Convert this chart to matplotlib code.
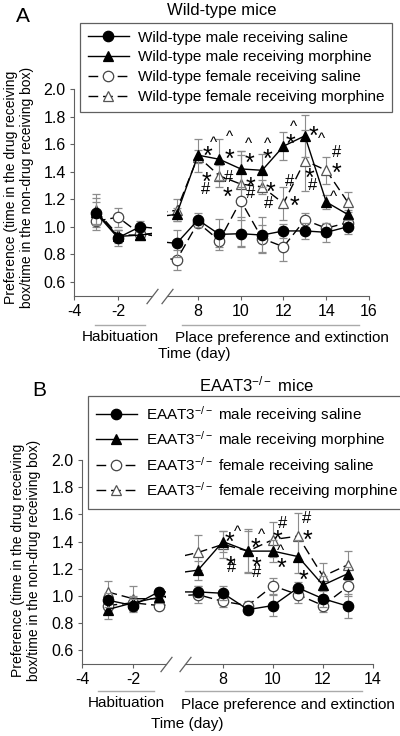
import numpy as np
import matplotlib.pyplot as plt
from matplotlib.lines import Line2D

plt.rcParams['font.family'] = ['Liberation Sans', 'DejaVu Sans']
plt.rcParams['mathtext.fontset'] = 'custom'
plt.rcParams['mathtext.rm'] = 'Liberation Sans'
plt.rcParams['mathtext.it'] = 'Liberation Sans:italic'
plt.rcParams['mathtext.bf'] = 'Liberation Sans:bold'
plt.rcParams['axes.unicode_minus'] = False

# ---- panel A: wild-type mice ----
days_a = [-3, -2, -1, 7, 8, 9, 10, 11, 12, 13, 14, 15]
wt_male_saline = [1.10, 0.92, 1.00, 0.88, 1.05, 0.945, 0.95, 0.94, 0.97, 0.97, 0.96, 1.00]
wt_male_saline_err = [0.08, 0.06, 0.04, 0.10, 0.05, 0.11, 0.10, 0.13, 0.05, 0.06, 0.07, 0.05]
wt_male_morphine = [1.11, 0.93, 0.94, 1.09, 1.52, 1.49, 1.42, 1.41, 1.585, 1.66, 1.18, 1.09]
wt_male_morphine_err = [0.10, 0.05, 0.03, 0.05, 0.12, 0.15, 0.13, 0.12, 0.10, 0.15, 0.05, 0.03]
wt_female_saline = [1.04, 1.07, 0.95, 0.76, 1.03, 0.90, 1.19, 0.915, 0.855, 1.05, 0.99, 1.03]
wt_female_saline_err = [0.06, 0.07, 0.03, 0.07, 0.03, 0.05, 0.33, 0.10, 0.10, 0.05, 0.03, 0.03]
wt_female_morphine = [1.12, 0.94, 0.94, 1.12, 1.51, 1.37, 1.31, 1.29, 1.17, 1.48, 1.41, 1.18]
wt_female_morphine_err = [0.12, 0.04, 0.03, 0.08, 0.05, 0.08, 0.24, 0.05, 0.12, 0.22, 0.10, 0.07]

labels_a = ['Wild-type male receiving saline', 'Wild-type male receiving morphine',
            'Wild-type female receiving saline', 'Wild-type female receiving morphine']

stars_a = [(8.44, 1.56), (8.40, 1.375), (9.48, 1.54), (9.38, 1.265), (10.39, 1.51),
           (10.47, 1.34), (11.23, 1.54), (11.38, 1.30), (12.34, 1.65), (12.50, 1.20),
           (13.38, 1.71), (13.23, 1.40), (14.46, 1.44)]
carets_a = [(8.72, 1.63), (9.45, 1.67), (10.34, 1.62), (11.23, 1.62), (12.46, 1.745),
            (13.77, 1.66), (14.34, 1.24)]
hashes_a = [(8.36, 1.27), (9.45, 1.36), (10.44, 1.24), (11.30, 1.17), (12.28, 1.33),
            (13.35, 1.30), (14.46, 1.54)]

# ---- panel B: EAAT3-/- mice ----
days_b = [-3, -2, -1, 7, 8, 9, 10, 11, 12, 13]
ko_male_saline = [0.97, 0.93, 1.03, 1.03, 1.02, 0.90, 0.93, 1.06, 0.98, 0.925]
ko_male_saline_err = [0.05, 0.05, 0.03, 0.04, 0.05, 0.03, 0.08, 0.04, 0.06, 0.09]
ko_male_morphine = [0.90, 0.95, 0.99, 1.19, 1.40, 1.33, 1.33, 1.29, 1.08, 1.165]
ko_male_morphine_err = [0.07, 0.05, 0.04, 0.07, 0.08, 0.15, 0.08, 0.12, 0.07, 0.05]
ko_female_saline = [0.93, 0.95, 0.93, 1.01, 0.96, 0.93, 1.075, 1.01, 0.93, 1.07]
ko_female_saline_err = [0.04, 0.04, 0.02, 0.06, 0.04, 0.03, 0.06, 0.06, 0.05, 0.07]
ko_female_morphine = [1.03, 0.98, 0.98, 1.32, 1.38, 1.33, 1.415, 1.44, 1.145, 1.23]
ko_female_morphine_err = [0.08, 0.09, 0.03, 0.13, 0.10, 0.16, 0.13, 0.17, 0.10, 0.10]

ko = r'EAAT3$^{-/-}$'
labels_b = [ko + ' male receiving saline', ko + ' male receiving morphine',
            ko + ' female receiving saline', ko + ' female receiving morphine']

stars_b = [(8.27, 1.445), (8.29, 1.27), (9.29, 1.40), (9.33, 1.26), (10.19, 1.465),
           (10.32, 1.255), (11.36, 1.465), (11.23, 1.165)]
carets_b = [(8.59, 1.49), (9.52, 1.47), (10.28, 1.35)]
hashes_b = [(8.36, 1.21), (9.33, 1.175), (10.40, 1.53), (11.33, 1.57)]

yticks = [0.6, 0.8, 1.0, 1.2, 1.4, 1.6, 1.8, 2.0]
ylabel = 'Preference (time in the drug receiving\nbox/time in the non-drug receiving box)'

dash = (0, (7, 3.5))
styles = [
    dict(marker='o', ls='-', mfc='black', mec='black', ms=7.5),
    dict(marker='^', ls='-', mfc='black', mec='black', ms=6.5),
    dict(marker='o', ls=dash, mfc='white', mec='#444444', ms=7.5),
    dict(marker='^', ls=dash, mfc='white', mec='#555555', ms=6.5),
]
axis_grey = '#606060'
W, H = 400, 736


def fx(px):
    return px / W


def fy(py):
    return 1 - py / H


def draw_panel(fig, left_px, right_px, top_px, bottom_px, left_xlim, right_xlim,
               right_ticks, days, means, errs, stars, carets, hashes):
    h = (bottom_px - top_px) / H
    ax_l = fig.add_axes([fx(left_px[0]), fy(bottom_px), (left_px[1] - left_px[0]) / W, h])
    ax_r = fig.add_axes([fx(right_px[0]), fy(bottom_px), (right_px[1] - right_px[0]) / W, h])

    order = [3, 2, 1, 0]
    for ax in (ax_l, ax_r):
        for i in order:
            st = styles[i]
            ax.errorbar(days, means[i], yerr=errs[i], color='black', lw=1.0,
                        ecolor='#8c8c8c', elinewidth=0.8, capsize=2.8, capthick=0.8,
                        marker=st['marker'], ls=st['ls'], mfc=st['mfc'], mec=st['mec'],
                        ms=st['ms'], mew=0.9, zorder=3 + (3 - i))
        ax.set_ylim(0.5, 2.0)
        ax.spines['top'].set_visible(False)
        ax.spines['right'].set_visible(False)
        ax.spines['bottom'].set_color(axis_grey)
        ax.spines['left'].set_color(axis_grey)
        ax.tick_params(direction='out', length=3, width=0.8, color=axis_grey,
                       labelsize=11.5, pad=3)
        ax.patch.set_alpha(0)

    ax_l.set_xlim(*left_xlim)
    ax_l.set_xticks([-4, -2])
    ax_l.set_yticks(yticks)
    ax_l.set_yticklabels(['%.1f' % v for v in yticks])

    ax_r.set_xlim(*right_xlim)
    ax_r.set_xticks(right_ticks)
    ax_r.spines['left'].set_visible(False)
    ax_r.set_yticks([])

    # break marks
    slash = dict(marker=[(-1, -1.3), (1, 1.3)], markersize=11, ls='none',
                 color=axis_grey, mec=axis_grey, mew=0.9, clip_on=False)
    ax_l.plot([1], [0], transform=ax_l.transAxes, **slash)
    ax_r.plot([0], [0], transform=ax_r.transAxes, **slash)

    # significance marks
    for x, y in stars:
        ax_r.annotate('*', (x, y), xytext=(0, -5.5), textcoords='offset points',
                      ha='center', va='center', fontsize=18, zorder=10)
    for x, y in carets:
        ax_r.annotate('^', (x, y), xytext=(0, -2), textcoords='offset points',
                      ha='center', va='center', fontsize=11, zorder=10)
    for x, y in hashes:
        ax_r.annotate('#', (x, y), xytext=(0, 0), textcoords='offset points',
                      ha='center', va='center', fontsize=12, zorder=10)
    return ax_l, ax_r


def phase_labels(fig, line_y, hab_span, pp_span, hab_text_y, pp_xy, time_xy):
    for x0, x1 in (hab_span, pp_span):
        fig.add_artist(Line2D([fx(x0), fx(x1)], [fy(line_y), fy(line_y)],
                              transform=fig.transFigure, color='#aaaaaa', lw=1.0))
    fig.text(fx(sum(hab_span) / 2), fy(hab_text_y), 'Habituation', ha='center', va='center',
             fontsize=11)
    fig.text(fx(pp_xy[0]), fy(pp_xy[1]), 'Place preference and extinction',
             ha='center', va='center', fontsize=11)
    fig.text(fx(time_xy[0]), fy(time_xy[1]), 'Time (day)', ha='center', va='center',
             fontsize=11)


def legend_handles():
    return [Line2D([0], [0], color='black', lw=1.0, ls=st['ls'], marker=st['marker'],
                   mfc=st['mfc'], mec=st['mec'], ms=st['ms'], mew=0.9) for st in styles]


fig = plt.figure(figsize=(4, 7.36), dpi=100)

# panel A
draw_panel(fig, (74, 152), (167, 369), 89, 295.7, (-4, -0.45), (6.55, 16),
           [8, 10, 12, 14, 16], days_a,
           [wt_male_saline, wt_male_morphine, wt_female_saline, wt_female_morphine],
           [wt_male_saline_err, wt_male_morphine_err, wt_female_saline_err,
            wt_female_morphine_err],
           stars_a, carets_a, hashes_a)
phase_labels(fig, 325, (95, 145), (182, 359), 337, (282, 338), (194, 354))
fig.text(fx(222), fy(10), 'Wild-type mice', ha='center', va='center', fontsize=12)
fig.text(fx(23), fy(17), 'A', ha='center', va='center', fontsize=15)
fig.text(fx(19), fy(187), ylabel, rotation=90, ha='center', va='center', fontsize=10,
         multialignment='center')
leg = fig.legend(legend_handles(), labels_a, loc='upper left',
                 bbox_to_anchor=(fx(80), fy(23)), bbox_transform=fig.transFigure,
                 fontsize=11, frameon=True, fancybox=False, framealpha=1,
                 edgecolor=axis_grey, borderaxespad=0, handlelength=2.7,
                 handletextpad=0.6, labelspacing=0.38, borderpad=0.5, numpoints=1)
leg.get_frame().set_linewidth(0.9)

# panel B
draw_panel(fig, (82, 166), (185, 373), 460, 664, (-4, -0.71), (6.48, 14),
           [8, 10, 12, 14], days_b,
           [ko_male_saline, ko_male_morphine, ko_female_saline, ko_female_morphine],
           [ko_male_saline_err, ko_male_morphine_err, ko_female_saline_err,
            ko_female_morphine_err],
           stars_b, carets_b, hashes_b)
phase_labels(fig, 690.7, (98, 154), (185, 362), 702.7, (288, 705), (187, 724))
fig.text(fx(257), fy(384), ko + ' mice', ha='center', va='center', fontsize=12)
fig.text(fx(39), fy(390), 'B', ha='center', va='center', fontsize=15)
fig.text(fx(26), fy(560), ylabel, rotation=90, ha='center', va='center', fontsize=10,
         multialignment='center')
leg = fig.legend(legend_handles(), labels_b, loc='upper left',
                 bbox_to_anchor=(fx(88), fy(396)), bbox_transform=fig.transFigure,
                 fontsize=11, frameon=True, fancybox=False, framealpha=1,
                 edgecolor=axis_grey, borderaxespad=0, handlelength=2.7,
                 handletextpad=0.6, labelspacing=0.3, borderpad=0.5, numpoints=1)
leg.get_frame().set_linewidth(0.9)

fig.savefig('out.png', dpi=100)
